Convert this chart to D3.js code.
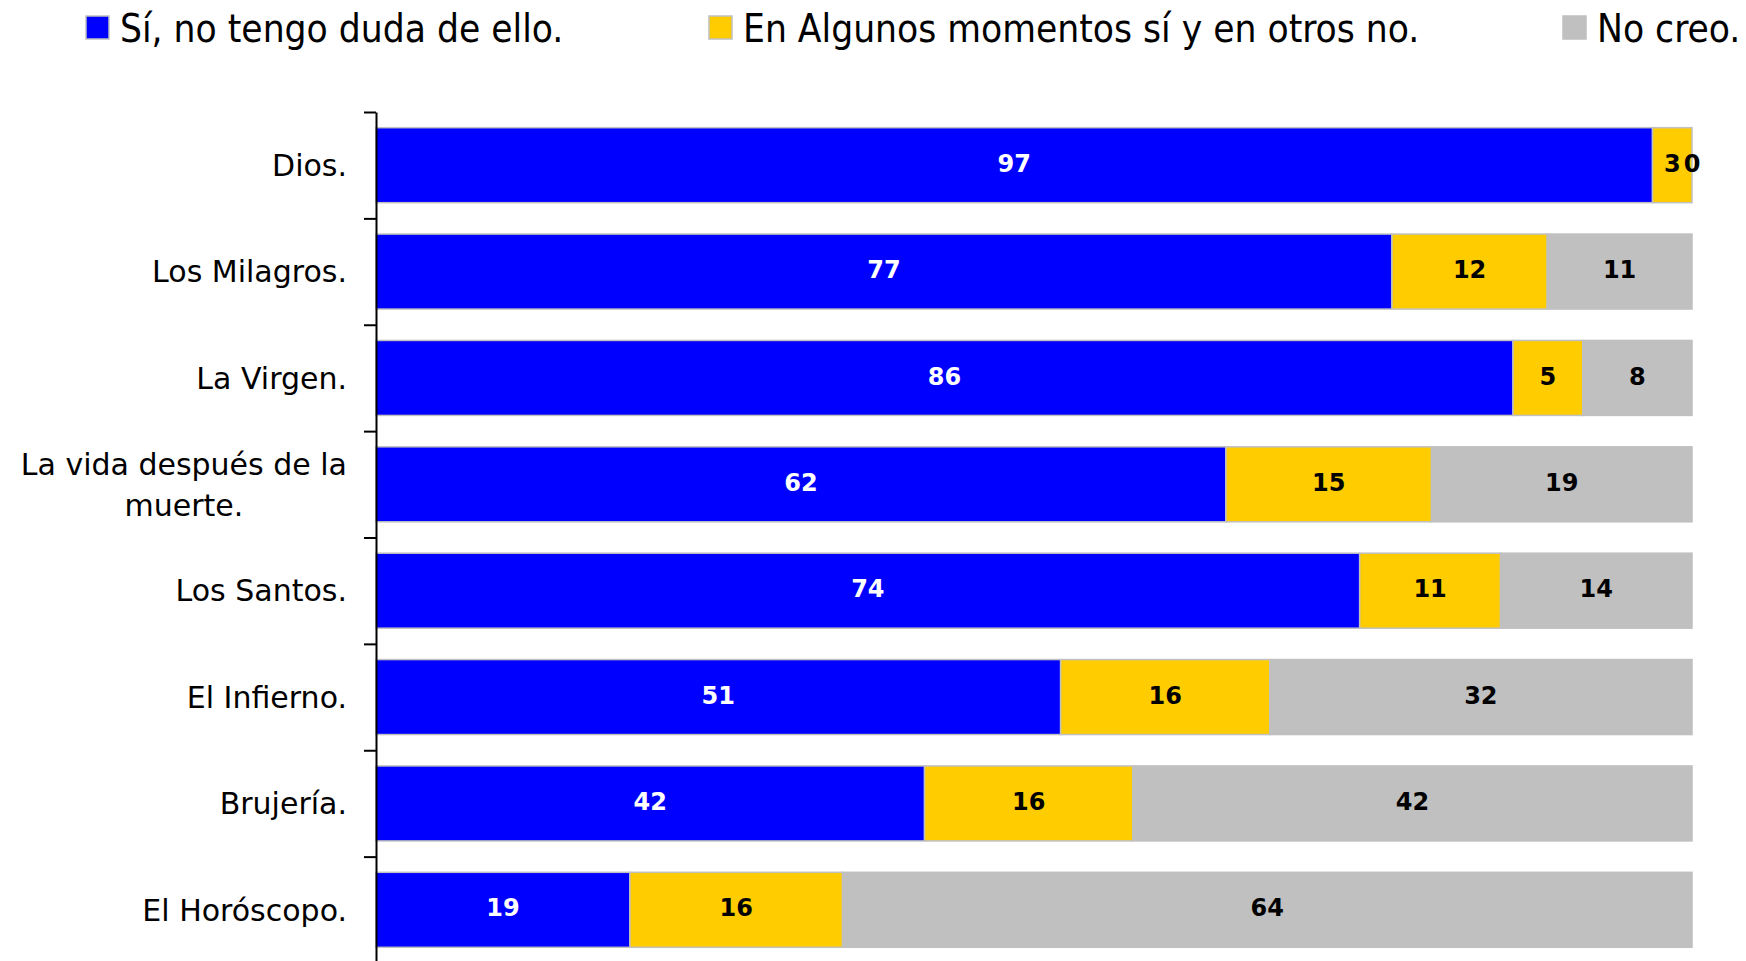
<!DOCTYPE html>
<html>
<head>
<meta charset="utf-8">
<script src="https://cdn.jsdelivr.net/npm/d3@7"></script>
<style>
  body { margin: 0; background: #ffffff; }
  svg { display: block; }
</style>
</head>
<body>
<div id="container"></div>
<script>
var categories = ["Dios.", "Los Milagros.", "La Virgen.", "La vida después de la muerte.", "Los Santos.", "El Infierno.", "Brujería.", "El Horóscopo."];
// percentages (labels are shown rounded)
var siValues = [97, 77.2, 86.4, 62, 74.0, 51.4, 41.6, 19.1];
var algunosValues = [3, 11.8, 5.3, 15, 10.6, 15.7, 15.8, 16.0];
var noValues = [0, 11.0, 8.3, 19, 14.4, 31.7, 42.4, 63.9];
var seriesKeys = ["si", "algunos", "no"];
var seriesNames = ["Sí, no tengo duda de ello.", "En Algunos momentos sí y en otros no.", "No creo."];
var seriesColors = ["#0000ff", "#ffcc00", "#c0c0c0"];
var labelColors = ["#ffffff", "#000000", "#000000"];

var width = 1746, height = 961;
var fmt = d3.format(".0f");

var rows = categories.map(function(c, i) {
  return { cat: c, si: siValues[i], algunos: algunosValues[i], no: noValues[i] };
});

var svg = d3.select("#container").append("svg")
    .attr("width", width)
    .attr("height", height);

var x = d3.scaleLinear().domain([0, 1]).range([376, 1692]);
var y = d3.scaleBand().domain(categories).range([112, 963]).paddingInner(0.295).paddingOuter(0.1475);
var yTicks = d3.scaleLinear().domain([0, categories.length]).range([112, 963]);

var stacked = d3.stack().keys(seriesKeys).offset(d3.stackOffsetExpand)(rows);

// bars
var layers = svg.selectAll("g.layer").data(stacked);
layers.enter()
  .append("g")
  .attr("class", "layer")
  .style("fill", function(d, i) {
      return seriesColors[i];
  })
  .selectAll("rect")
  .data(function(d) { return d; })
  .enter()
  .append("rect")
  .attr("x", function(d) { return x(d[0]); })
  .attr("y", function(d) { return y(d.data.cat); })
  .attr("width", function(d) { return x(d[1]) - x(d[0]); })
  .attr("height", y.bandwidth())
  .style("stroke", "#c0c0c0")
  .style("stroke-width", 1.5);

// value labels
var valueGroups = svg.selectAll("g.vals").data(stacked);
valueGroups.enter()
  .append("g")
  .attr("class", "vals")
  .style("fill", function(d, i) {
      return labelColors[i];
  })
  .each(function(layer) {
    d3.select(this).selectAll("text")
      .data(layer)
      .enter()
      .append("text")
      .attr("x", function(d) { return (x(d[0]) + x(d[1])) / 2; })
      .attr("y", function(d) { return y(d.data.cat) + y.bandwidth() / 2 - 2; })
      .attr("dy", "0.36em")
      .attr("text-anchor", "middle")
      .style("font-family", "'DejaVu Sans', Verdana, sans-serif")
      .style("font-weight", "bold")
      .style("font-size", "24px")
      .text(function(d) { return fmt(d.data[layer.key]); });
  });

// y axis with ticks between categories
var yAxis = d3.axisLeft(yTicks)
  .tickValues(d3.range(0, categories.length + 1))
  .tickFormat("")
  .tickSize(12)
  .tickSizeOuter(0);

var axisG = svg.append("g")
  .attr("transform", "translate(376,0)")
  .call(yAxis);
axisG.selectAll("path, line")
  .style("stroke", "#000000")
  .style("stroke-width", 2);

// category labels (long ones wrapped, centred as a block)
var catLabels = svg.selectAll("text.cat").data(categories);
catLabels.enter()
  .append("text")
  .attr("class", "cat")
  .attr("x", 347)
  .attr("y", function(d) { return y(d) + y.bandwidth() / 2; })
  .attr("dy", "0.36em")
  .attr("text-anchor", "end")
  .style("font-family", "'DejaVu Sans', Tahoma, sans-serif")
  .style("font-size", "30px")
  .style("fill", "#000000")
  .text(function(d) { return d; })
  .each(function(d) {
    var t = d3.select(this);
    if (this.getComputedTextLength() <= 335) return;
    var words = d.split(" ");
    var lines = [], line = [];
    t.text(null).attr("dy", null);
    var probe = t.append("tspan");
    words.forEach(function(w) {
      line.push(w);
      probe.text(line.join(" "));
      if (probe.node().getComputedTextLength() > 335 && line.length > 1) {
        line.pop();
        lines.push(line.join(" "));
        line = [w];
      }
    });
    lines.push(line.join(" "));
    probe.remove();
    var widest = 0;
    var cy = y(d) + y.bandwidth() / 2;
    var lh = 41;
    lines.forEach(function(l, i) {
      var ts = t.append("tspan")
        .attr("x", 0)
        .attr("y", cy + 11 + (i - (lines.length - 1) / 2) * lh)
        .text(l);
      widest = Math.max(widest, ts.node().getComputedTextLength());
    });
    t.attr("text-anchor", "middle");
    t.selectAll("tspan").attr("x", 347 - widest / 2);
  });

// legend
var legendX = [86, 709, 1563];
var legend = svg.append("g").attr("class", "legend");
var legendRect = legend.selectAll("rect").data(seriesNames);
legendRect.enter()
  .append("rect")
  .attr("x", function(d, i) { return legendX[i]; })
  .attr("y", 16)
  .attr("width", 23)
  .attr("height", 23)
  .style("fill", function(d, i) { return seriesColors[i]; })
  .style("stroke", "#c0c0c0")
  .style("stroke-width", 1.5);

var legendText = legend.selectAll("text").data(seriesNames);
legendText.enter()
  .append("text")
  .attr("x", function(d, i) { return legendX[i] + 34; })
  .attr("y", 42)
  .style("font-family", "'DejaVu Sans Condensed', 'DejaVu Sans', sans-serif")
  .style("font-stretch", "condensed")
  .style("font-size", "38.5px")
  .style("fill", "#000000")
  .text(function(d) { return d; });
</script>
</body>
</html>
